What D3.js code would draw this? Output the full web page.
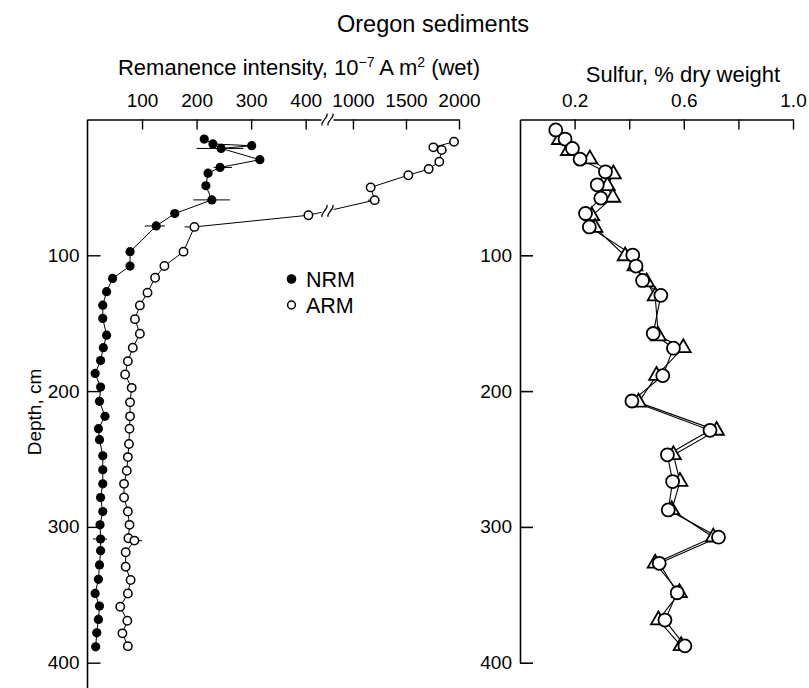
<!DOCTYPE html>
<html>
<head>
<meta charset="utf-8">
<script src="https://cdn.jsdelivr.net/npm/d3@7"></script>
<style>
  body { margin: 0; background: #fff; }
  svg { font-family: "Liberation Sans", Arial, sans-serif; }
</style>
</head>
<body>
<div id="chart"></div>
<script>
// NRM (filled circles): depth cm, intensity
const nrmDepth = [14.4, 18, 19.3, 21.3, 29.6, 35.3, 39.5, 48.8, 59.2, 69.3, 78.4, 97.3, 107.9, 117, 126.8, 136.7, 146.5, 158.8, 168, 177.5, 187, 197, 207.5, 218.6, 227.7, 235.8, 247.6, 257.9, 268.3, 278.4, 288.7, 298.5, 308.9, 317.5, 328, 338.6, 349, 358.3, 368.1, 378, 388.3]
const nrmValue = [214, 230, 301, 245, 316, 243, 221, 217, 228, 160, 126, 78, 78, 46, 35, 28, 28, 35, 29, 24, 14, 24, 22, 32, 20, 22, 28, 28, 28, 24, 28, 23, 24, 24, 22, 20, 14, 22, 20, 17, 15]

// ARM (open circles)
const armDepth = [16.4, 20.5, 22.5, 31.1, 36.5, 41, 50, 59.4, 70.5, 79.1, 97.3, 107.9, 116.5, 127.5, 136.9, 147, 157.8, 168.1, 178, 187.8, 197.6, 208.3, 218.6, 227.7, 239, 248.6, 258.7, 268.3, 278.4, 288.7, 298.5, 308.4, 310.1, 318.7, 329.3, 339.1, 349, 358.8, 369.1, 378.4, 387.8]
const armValue = [1953, 1758, 1837, 1814, 1714, 1522, 1167, 1205, 405, 196, 176, 141, 124, 110, 96, 87, 96, 83, 74, 69, 81, 78, 78, 77, 76, 74, 72, 67, 67, 74, 77, 75, 86, 70, 70, 79, 74, 60, 73, 64, 74]

// error bars: [depth, low, high]
const nrmErrors = [[21.3, 200, 286], [35.3, 231, 265], [59.2, 194, 261], [78.4, 105, 142], [308.9, 10, 36]]
const armErrors = [[59.4, 1140, 1250], [79.1, 178, 200], [310.1, 80, 100]]

// Sulfur, circles and triangles
const sCircleDepth = [7.7, 14.4, 21.3, 29.2, 38.5, 48.1, 57.9, 69.2, 79.1, 99.8, 107.9, 118.5, 129.5, 157.6, 168.4, 188.6, 207.3, 228.9, 246.9, 266.6, 287.5, 307.6, 326.8, 348.5, 368.6, 387.6]
const sCircleValue = [0.131, 0.165, 0.192, 0.220, 0.313, 0.283, 0.296, 0.240, 0.254, 0.413, 0.425, 0.449, 0.516, 0.488, 0.562, 0.523, 0.410, 0.696, 0.540, 0.559, 0.543, 0.727, 0.510, 0.576, 0.531, 0.604]
const sTriDepth = [14.9, 23, 29.2, 40.2, 48.8, 57.4, 71, 79.6, 100.5, 107.9, 119.7, 130, 159.5, 168.1, 188.6, 208.3, 229, 247, 266.6, 287.5, 307.6, 326.8, 348.5, 368.6, 387.6]
const sTriValue = [0.144, 0.177, 0.256, 0.342, 0.320, 0.340, 0.263, 0.275, 0.385, 0.421, 0.464, 0.495, 0.507, 0.598, 0.500, 0.434, 0.720, 0.562, 0.586, 0.556, 0.708, 0.495, 0.584, 0.507, 0.590]

const remTicks = [100, 200, 300, 400, 1000, 1500, 2000]
const sulfurTicks = [0.2, 0.4, 0.6, 0.8, 1.0]
const sulfurLabels = ['0.2', '', '0.6', '', '1.0']
const depthTicks = [100, 200, 300, 400]

const W = 809, H = 688
const TICK_FONT = 19

const svg = d3.select('#chart').append('svg')
  .attr('width', W)
  .attr('height', H)

const y = d3.scaleLinear().domain([0, 400]).range([119.5, 662.7])
// broken scale: 0-440 | 760-2000
const xRem = d3.scaleLinear().domain([0, 440, 760, 2000]).range([87.5, 327.5, 327.5, 459])
const xS = d3.scaleLinear().domain([0, 1]).range([520, 793])

const zip = (a, b) => a.map((d, i) => [d, b[i]])
const nrm = zip(nrmDepth, nrmValue)
const arm = zip(armDepth, armValue)
const sCirc = zip(sCircleDepth, sCircleValue)
const sTri = zip(sTriDepth, sTriValue)

// Title
svg.append('text')
  .attr('x', 433).attr('y', 32)
  .attr('text-anchor', 'middle')
  .attr('font-size', 23.5)
  .text('Oregon sediments')

// ---- Left panel ----
const left = svg.append('g')

const remAxis = left.append('g')
  .attr('transform', `translate(0,${y(0)})`)
  .call(d3.axisTop(xRem).tickValues(remTicks).tickFormat(d3.format('d'))
    .tickSizeInner(-10).tickSizeOuter(0).tickPadding(13))
remAxis.selectAll('text').attr('font-size', TICK_FONT).attr('fill', '#000')
remAxis.selectAll('line, path').attr('stroke', '#000').attr('stroke-width', 1.4)

const depthAxis = left.append('g')
  .attr('transform', `translate(${xRem(0)},0)`)
  .call(d3.axisLeft(y).tickValues(depthTicks).tickSizeInner(-13).tickSizeOuter(0).tickPadding(8))
depthAxis.select('.domain').remove()
depthAxis.selectAll('text').attr('font-size', TICK_FONT).attr('fill', '#000')
depthAxis.selectAll('line').attr('stroke', '#000').attr('stroke-width', 1.4)
left.append('line')
  .attr('x1', xRem(0)).attr('x2', xRem(0))
  .attr('y1', y(0)).attr('y2', H)
  .attr('stroke', '#000').attr('stroke-width', 1.6)

// axis break marks (two small S curves)
function breakMark(g, cx, cy) {
  g.append('rect').attr('x', cx - 6).attr('y', cy - 2.5).attr('width', 12).attr('height', 5).attr('fill', '#fff')
  ;[-3, 3].forEach(dx => {
    const x0 = cx + dx
    g.append('path')
      .attr('d', `M${x0 - 2.5},${cy + 6} C${x0 - 3.5},${cy + 3} ${x0 - 1},${cy + 2} ${x0},${cy} C${x0 + 1},${cy - 2} ${x0 + 3.5},${cy - 3} ${x0 + 2.5},${cy - 6}`)
      .attr('fill', 'none').attr('stroke', '#000').attr('stroke-width', 1.3)
  })
}
breakMark(left, xRem(440), y(0))

left.append('text')
  .attr('x', 299).attr('y', 75)
  .attr('text-anchor', 'middle')
  .attr('font-size', 22)
  .html('Remanence intensity, 10<tspan dy="-8" font-size="14">−7</tspan><tspan dy="8"> A m</tspan><tspan dy="-8" font-size="14">2</tspan><tspan dy="8"> (wet)</tspan>')

left.append('text')
  .attr('transform', `translate(41,412) rotate(-90)`)
  .attr('text-anchor', 'middle')
  .attr('font-size', 19)
  .text('Depth, cm')

const lineRem = d3.line().x(d => xRem(d[1])).y(d => y(d[0]))

left.append('path').datum(arm)
  .attr('d', lineRem).attr('fill', 'none').attr('stroke', '#000').attr('stroke-width', 1)
left.append('path').datum(nrm)
  .attr('d', lineRem).attr('fill', 'none').attr('stroke', '#000').attr('stroke-width', 1)

// break on the ARM line
const bi = armValue.indexOf(405)
const p0 = [xRem(armValue[bi - 1]), y(armDepth[bi - 1])]
const p1 = [xRem(armValue[bi]), y(armDepth[bi])]
const bx = xRem(440)
const by = p1[1] + (p0[1] - p1[1]) * (bx - p1[0]) / (p0[0] - p1[0])
breakMark(left, bx, by)

const errs = nrmErrors.concat(armErrors)
left.selectAll('.err').data(errs).join('line')
  .attr('class', 'err')
  .attr('x1', d => xRem(d[1])).attr('x2', d => xRem(d[2]))
  .attr('y1', d => y(d[0])).attr('y2', d => y(d[0]))
  .attr('stroke', '#000').attr('stroke-width', 1)

left.selectAll('.arm').data(arm).join('circle')
  .attr('class', 'arm')
  .attr('cx', d => xRem(d[1])).attr('cy', d => y(d[0]))
  .attr('r', 4.2)
  .attr('fill', '#fff').attr('stroke', '#000').attr('stroke-width', 1.5)
left.selectAll('.nrm').data(nrm).join('circle')
  .attr('class', 'nrm')
  .attr('cx', d => xRem(d[1])).attr('cy', d => y(d[0]))
  .attr('r', 4.6)
  .attr('fill', '#000')

// legend
const legend = left.append('g')
legend.append('circle').attr('cx', 291.5).attr('cy', 279).attr('r', 4.8).attr('fill', '#000')
legend.append('circle').attr('cx', 291.5).attr('cy', 305).attr('r', 3.9)
  .attr('fill', '#fff').attr('stroke', '#000').attr('stroke-width', 1.5)
legend.append('text').attr('x', 306).attr('y', 287).attr('font-size', 21.5).text('NRM')
legend.append('text').attr('x', 306).attr('y', 313).attr('font-size', 21.5).text('ARM')

// ---- Right panel ----
const right = svg.append('g')

const sAxis = right.append('g')
  .attr('transform', `translate(0,${y(0)})`)
  .call(d3.axisTop(xS).tickValues(sulfurTicks).tickFormat((d, i) => sulfurLabels[i])
    .tickSizeInner(-10).tickSizeOuter(0).tickPadding(13))
sAxis.selectAll('text').attr('font-size', TICK_FONT).attr('fill', '#000')
sAxis.selectAll('line, path').attr('stroke', '#000').attr('stroke-width', 1.4)

const sDepth = right.append('g')
  .attr('transform', `translate(${xS(0)},0)`)
  .call(d3.axisLeft(y).tickValues(depthTicks).tickSizeInner(-13).tickSizeOuter(0).tickPadding(8))
sDepth.selectAll('text').attr('font-size', TICK_FONT).attr('fill', '#000')
sDepth.selectAll('line, path').attr('stroke', '#000').attr('stroke-width', 1.6)

right.append('text')
  .attr('x', 683).attr('y', 82)
  .attr('text-anchor', 'middle')
  .attr('font-size', 22)
  .text('Sulfur, % dry weight')

const lineS = d3.line().x(d => xS(d[1])).y(d => y(d[0]))
right.append('path').datum(sTri)
  .attr('d', lineS).attr('fill', 'none').attr('stroke', '#000').attr('stroke-width', 1.1)
right.append('path').datum(sCirc)
  .attr('d', lineS).attr('fill', 'none').attr('stroke', '#000').attr('stroke-width', 1.1)

const tri = d3.symbol().type(d3.symbolTriangle).size(95)
right.selectAll('.tri').data(sTri).join('path')
  .attr('class', 'tri')
  .attr('transform', d => `translate(${xS(d[1])},${y(d[0])})`)
  .attr('d', tri)
  .attr('fill', '#fff').attr('stroke', '#000').attr('stroke-width', 1.8)

right.selectAll('.sc').data(sCirc).join('circle')
  .attr('class', 'sc')
  .attr('cx', d => xS(d[1])).attr('cy', d => y(d[0]))
  .attr('r', 6.5)
  .attr('fill', '#fff').attr('stroke', '#000').attr('stroke-width', 1.8)
</script>
</body>
</html>
